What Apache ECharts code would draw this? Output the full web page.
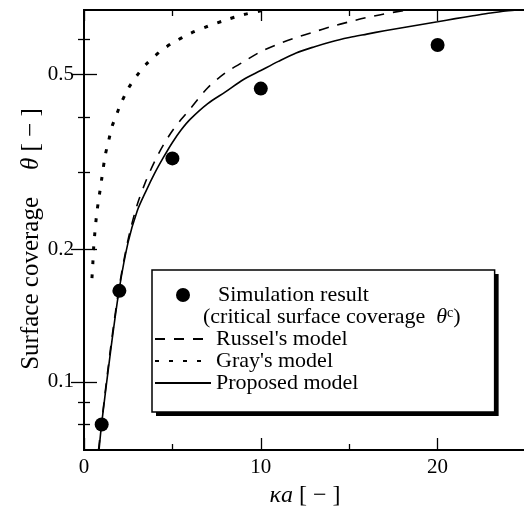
<!DOCTYPE html>
<html>
<head>
<meta charset="utf-8">
<script src="https://cdn.jsdelivr.net/npm/echarts@6/dist/echarts.min.js"></script>
<style>
  html, body { margin: 0; padding: 0; background: #fff; }
  #chart { width: 524px; height: 508px; }
</style>
</head>
<body>
<div id="chart"></div>
<script>
// Simulation result: critical surface coverage vs. κa
const simX = [1, 2, 5, 10, 20];
const simY = [0.080, 0.161, 0.322, 0.464, 0.583];

// Russel's model
const russelX = [0.82, 1.0, 1.5, 2.0, 2.5, 3.0, 3.5, 4.0, 4.5, 5.0, 5.5, 6.0, 7.0, 8.0, 9.0, 10.0, 11.0, 12.0, 13.0, 14.0, 15.0, 16.0, 17.0, 18.3];
const russelY = [0.070, 0.081, 0.119, 0.165, 0.211, 0.252, 0.286, 0.317, 0.346, 0.372, 0.395, 0.417, 0.466, 0.504, 0.533, 0.563, 0.586, 0.606, 0.624, 0.642, 0.658, 0.673, 0.686, 0.700];

// Gray's model
const grayX = [0.45, 0.5, 0.55, 0.6, 0.7, 0.8, 0.9, 1.0, 1.2, 1.4, 1.6, 1.8, 2.0, 2.5, 3.0, 3.5, 4.0, 4.5, 5.0, 6.0, 7.0, 8.0, 9.0, 10.0, 10.4];
const grayY = [0.172, 0.186, 0.203, 0.215, 0.237, 0.255, 0.271, 0.289, 0.327, 0.354, 0.382, 0.400, 0.421, 0.464, 0.497, 0.526, 0.550, 0.571, 0.589, 0.619, 0.643, 0.664, 0.683, 0.697, 0.703];

// Proposed model
const proposedX = [0.85, 1.0, 1.5, 2.0, 2.5, 3.0, 3.5, 4.0, 4.5, 5.0, 5.5, 6.0, 7.0, 8.0, 9.0, 10.0, 11.0, 12.0, 13.0, 14.0, 15.0, 16.0, 17.0, 18.0, 19.0, 20.0, 21.0, 22.0, 23.0, 24.0, 24.5];
const proposedY = [0.070, 0.0805, 0.117, 0.163, 0.208, 0.244, 0.271, 0.298, 0.324, 0.350, 0.374, 0.395, 0.429, 0.456, 0.486, 0.510, 0.535, 0.559, 0.577, 0.593, 0.606, 0.617, 0.628, 0.638, 0.648, 0.658, 0.669, 0.679, 0.689, 0.697, 0.700];

// Axis ticks and labels
const xMajorTicks = [0, 10, 20];
const xMinorTicks = [5, 15];
const xTickLabels = ['0', '10', '20'];
const yMajorTicks = [0.1, 0.2, 0.5];
const yMinorTicks = [0.08, 0.09, 0.3, 0.4, 0.6];
const yTickLabels = ['0.1', '0.2', '0.5'];

const X_MIN = 0, X_MAX = 25;
const Y_MIN = 0.07, Y_MAX = 0.7;

const SERIF = "'Liberation Serif', 'Times New Roman', serif";

function pairs(xs, ys) {
  return xs.map((x, i) => [x, ys[i]]);
}
function labelFor(ticks, labels) {
  return function (v) {
    let best = 0;
    for (let i = 1; i < ticks.length; i++) {
      if (Math.abs(ticks[i] - v) < Math.abs(ticks[best] - v)) best = i;
    }
    return labels[best];
  };
}

const frameLine = { show: true, lineStyle: { color: '#000', width: 2 } };
const noLine = { show: false };

function xAxisDef(position, ticks, len, withLabels, withLine) {
  const a = {
    type: 'value', gridIndex: 0, position: position,
    min: X_MIN, max: X_MAX,
    axisLine: withLine ? frameLine : noLine,
    axisTick: { show: true, inside: true, length: len, customValues: ticks,
                lineStyle: { color: '#000', width: 1.3 } },
    axisLabel: { show: false },
    splitLine: { show: false }
  };
  if (withLabels) {
    a.axisLabel = {
      show: true, customValues: ticks, margin: 7,
      formatter: labelFor(xMajorTicks, xTickLabels),
      color: '#000', fontFamily: SERIF, fontSize: 21
    };
    a.name = '{i|κa} [ − ]';
    a.nameLocation = 'middle';
    a.nameGap = 34;
    a.nameTextStyle = {
      color: '#000', fontFamily: SERIF, fontSize: 24,
      rich: { i: { fontStyle: 'italic', fontFamily: SERIF, fontSize: 24, color: '#000' } }
    };
  }
  return a;
}

function yAxisDef(position, ticks, len, withLabels, withLine) {
  const a = {
    type: 'log', logBase: 10, gridIndex: 0, position: position,
    min: Y_MIN, max: Y_MAX,
    axisLine: withLine ? frameLine : noLine,
    axisTick: { show: true, inside: true, length: len, customValues: ticks,
                lineStyle: { color: '#000', width: 1.3 } },
    axisLabel: { show: false },
    splitLine: { show: false },
    minorTick: { show: false }
  };
  if (withLabels) {
    a.axisLabel = {
      show: true, customValues: ticks, margin: 10,
      formatter: labelFor(yMajorTicks, yTickLabels),
      color: '#000', fontFamily: SERIF, fontSize: 21
    };
    a.name = 'Surface coverage{i|θ} [ − ]';
    a.nameLocation = 'middle';
    a.nameGap = 40;
    a.nameMoveOverlap = false;
    a.nameRotate = 90;
    a.nameTextStyle = {
      color: '#000', fontFamily: SERIF, fontSize: 25,
      padding: [0, 18, 0, 0],
      rich: { i: { fontStyle: 'italic', fontFamily: SERIF, fontSize: 25, color: '#000',
                   padding: [0, 0, 0, 27] } }
    };
  }
  return a;
}

// Legend entries and their text
const legendEntries = [
  { name: 'Simulation result', icon: 'circle', itemStyle: { opacity: 1 } },
  { name: 'critical', icon: 'none' },
  { name: "Russel's model", itemStyle: { opacity: 0 } },
  { name: "Gray's model", itemStyle: { opacity: 0 } },
  { name: 'Proposed model', itemStyle: { opacity: 0 } }
];
function legendText(name) {
  if (name === 'Simulation result') return '{a|Simulation result}';
  if (name === 'critical') return '{c|(critical surface coverage}  {i|θ}{s|c})';
  return name;
}
function legendBox(left, top, visible) {
  const textColor = visible ? '#000' : 'rgba(0,0,0,0)';
  const box = {
    orient: 'vertical',
    left: left, top: top,
    padding: [14, 34, 18, 2],
    itemWidth: 56, itemHeight: 14, itemGap: 0, textGap: 5,
    selectedMode: false,
    borderRadius: 0,
    data: legendEntries,
    formatter: legendText,
    textStyle: {
      color: textColor, fontFamily: SERIF, fontSize: 22, lineHeight: 21.5,
      rich: {
        a: { color: textColor, padding: [0, 0, 0, 2] },
        c: { color: textColor, padding: [0, 0, 0, -13] },
        i: { color: textColor, fontStyle: 'italic' },
        s: { color: textColor, fontSize: 14, verticalAlign: 'top', lineHeight: 21.5 }
      }
    }
  };
  if (visible) {
    box.backgroundColor = '#fff';
    box.borderColor = '#000';
    box.borderWidth = 1.5;
    box.z = 6;
  } else {
    // solid plate offset behind the box, forming its drop shadow
    box.backgroundColor = '#000';
    box.borderWidth = 0;
    box.itemStyle = { opacity: 0 };
    box.lineStyle = { opacity: 0 };
    box.data = legendEntries.map(e => Object.assign({}, e, { itemStyle: { opacity: 0 } }));
    box.z = 5;
  }
  return box;
}

const chart = echarts.init(document.getElementById('chart'), null, { renderer: 'canvas' });

const option = {
  animation: false,
  backgroundColor: '#fff',
  grid: { left: 84, top: 10, width: 442, height: 440, containLabel: false, outerBoundsMode: 'none' },
  xAxis: [
    xAxisDef('bottom', xMajorTicks, 12, true, true),
    xAxisDef('bottom', xMinorTicks, 6, false, false),
    xAxisDef('top', xMajorTicks, 11, false, true),
    xAxisDef('top', xMinorTicks, 6, false, false)
  ],
  yAxis: [
    yAxisDef('left', yMajorTicks, 13, true, true),
    yAxisDef('left', yMinorTicks, 6, false, false),
    yAxisDef('right', yMajorTicks, 13, false, true),
    yAxisDef('right', yMinorTicks, 6, false, false)
  ],
  legend: [
    legendBox(156, 274, false),
    legendBox(152, 270, true)
  ],
  series: [
    {
      name: 'Simulation result', type: 'scatter',
      xAxisIndex: 0, yAxisIndex: 0,
      symbol: 'circle', symbolSize: 14,
      itemStyle: { color: '#000', opacity: 1 },
      data: pairs(simX, simY), z: 5
    },
    { name: 'critical', type: 'scatter', xAxisIndex: 0, yAxisIndex: 0, data: [] },
    {
      name: "Russel's model", type: 'line',
      xAxisIndex: 0, yAxisIndex: 0,
      showSymbol: false, symbol: 'none', smooth: 0.3,
      lineStyle: { color: '#000', width: 1.6, type: [10, 9] },
      itemStyle: { color: '#000' },
      data: pairs(russelX, russelY)
    },
    {
      name: "Gray's model", type: 'line',
      xAxisIndex: 0, yAxisIndex: 0,
      showSymbol: false, symbol: 'none', smooth: 0.3,
      lineStyle: { color: '#000', width: 3, type: [4, 10] },
      itemStyle: { color: '#000' },
      data: pairs(grayX, grayY)
    },
    {
      name: 'Proposed model', type: 'line',
      xAxisIndex: 0, yAxisIndex: 0,
      showSymbol: false, symbol: 'none', smooth: 0.3,
      lineStyle: { color: '#000', width: 1.6 },
      itemStyle: { color: '#000' },
      data: pairs(proposedX, proposedY)
    }
  ]
};

chart.setOption(option);
</script>
</body>
</html>
